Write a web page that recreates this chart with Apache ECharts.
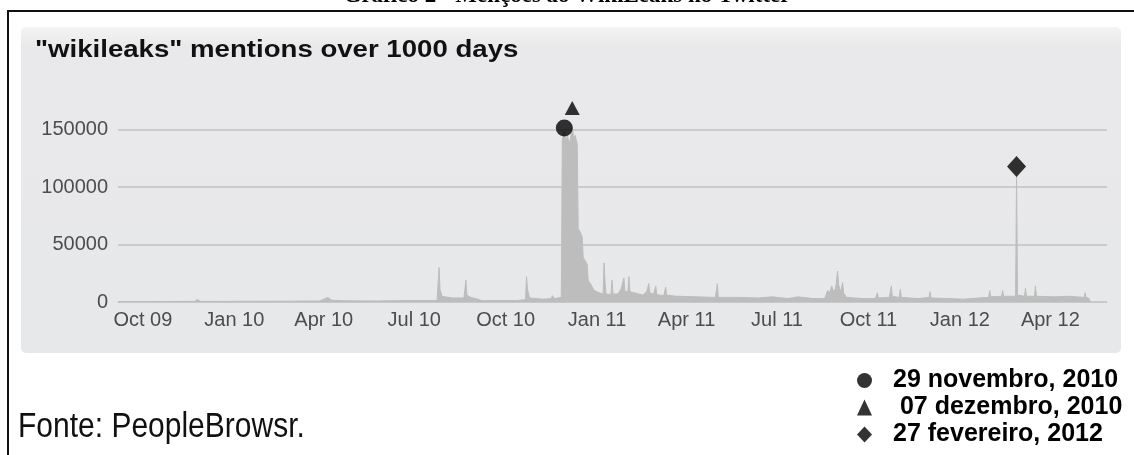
<!DOCTYPE html>
<html>
<head>
<meta charset="utf-8">
<title>wikileaks mentions over 1000 days</title>
<script src="https://cdn.jsdelivr.net/npm/echarts@6/dist/echarts.min.js"></script>
<style>
  html, body { margin: 0; padding: 0; background: #fff; }
  #chart { width: 1134px; height: 455px; }
</style>
</head>
<body>
<div id="chart"></div>
<script>
// menções diárias (datas e valores)
const mentionDates = [
  '2009-09-06', '2009-10-12', '2009-11-22', '2009-11-25', '2009-11-28',
  '2010-01-18', '2010-02-25', '2010-03-28', '2010-04-05', '2010-04-09',
  '2010-04-25', '2010-05-25', '2010-06-20', '2010-07-24', '2010-07-26',
  '2010-07-27', '2010-07-29', '2010-08-08', '2010-08-20', '2010-08-22',
  '2010-08-23', '2010-08-27', '2010-09-03', '2010-09-07', '2010-10-12',
  '2010-10-21', '2010-10-22', '2010-10-23', '2010-10-25', '2010-11-08',
  '2010-11-16', '2010-11-17', '2010-11-19', '2010-11-26', '2010-11-27',
  '2010-11-28', '2010-11-29', '2010-11-30', '2010-12-01', '2010-12-02',
  '2010-12-03', '2010-12-04', '2010-12-05', '2010-12-06', '2010-12-07',
  '2010-12-08', '2010-12-09', '2010-12-10', '2010-12-11', '2010-12-12',
  '2010-12-13', '2010-12-15', '2010-12-17', '2010-12-18', '2010-12-20',
  '2010-12-22', '2010-12-23', '2010-12-26', '2010-12-29', '2011-01-03',
  '2011-01-07', '2011-01-08', '2011-01-09', '2011-01-10', '2011-01-15',
  '2011-01-16', '2011-01-17', '2011-01-22', '2011-01-25', '2011-01-28',
  '2011-01-29', '2011-02-01', '2011-02-02', '2011-02-03', '2011-02-10',
  '2011-02-16', '2011-02-20', '2011-02-22', '2011-02-23', '2011-02-27',
  '2011-03-01', '2011-03-02', '2011-03-09', '2011-03-11', '2011-03-12',
  '2011-03-22', '2011-04-12', '2011-04-30', '2011-05-02', '2011-05-03',
  '2011-05-22', '2011-06-12', '2011-06-26', '2011-07-12', '2011-07-22',
  '2011-08-06', '2011-08-18', '2011-08-21', '2011-08-23', '2011-08-25',
  '2011-08-27', '2011-08-29', '2011-08-31', '2011-09-01', '2011-09-03',
  '2011-09-05', '2011-09-06', '2011-09-09', '2011-09-25', '2011-10-08',
  '2011-10-10', '2011-10-11', '2011-10-22', '2011-10-24', '2011-10-25',
  '2011-11-01', '2011-11-02', '2011-11-03', '2011-11-20', '2011-12-01',
  '2011-12-02', '2011-12-03', '2011-12-20', '2012-01-05', '2012-01-20',
  '2012-01-30', '2012-01-31', '2012-02-01', '2012-02-12', '2012-02-13',
  '2012-02-14', '2012-02-26', '2012-02-27', '2012-02-28', '2012-03-06',
  '2012-03-07', '2012-03-08', '2012-03-16', '2012-03-17', '2012-03-18',
  '2012-04-05', '2012-04-20', '2012-05-05', '2012-05-06', '2012-05-07',
  '2012-05-10', '2012-05-11'
];
const mentionValues = [
  300, 400, 500, 2200, 500,
  600, 700, 900, 4000, 1500,
  1000, 900, 1200, 1300, 30000,
  11000, 5000, 3500, 3500, 19000,
  6000, 4000, 2500, 1200, 1300,
  2000, 22000, 11000, 3500, 2500,
  3000, 5500, 3000, 4000, 140000,
  147000, 150000, 143000, 140000, 145000,
  142000, 138000, 141000, 146000, 152000,
  146000, 143000, 145000, 141000, 138000,
  64000, 61000, 57000, 39000, 36000,
  33000, 19000, 15000, 10000, 8000,
  7000, 34000, 18000, 7000, 6500,
  19000, 7000, 7000, 11000, 21000,
  9000, 9000, 22000, 9000, 7500,
  6000, 9000, 16000, 8000, 7000,
  14000, 6500, 5500, 13000, 6000,
  5000, 4500, 4000, 16000, 4000,
  4000, 3500, 4500, 3000, 4500,
  3000, 3000, 10000, 8000, 14000,
  9000, 12000, 27000, 15000, 9000,
  17000, 8000, 4000, 3000, 3000,
  8000, 3500, 4000, 14000, 5000,
  4000, 11000, 4000, 3000, 4000,
  9000, 3500, 3000, 2500, 3500,
  4000, 10000, 4500, 5000, 10000,
  5000, 5000, 110000, 6000, 5000,
  12000, 5000, 5000, 14000, 5000,
  4500, 5000, 4000, 8000, 4000,
  3000, 0
];

// datas destacadas no gráfico
const eventNames = ['29 novembro, 2010', ' 07 dezembro, 2010', '27 fevereiro, 2012'];
const eventDates = ['2010-11-29', '2010-12-07', '2012-02-27'];
const eventValues = [151500, 169000, 118000];
const eventSymbols = ['circle', 'triangle', 'diamond'];

// rótulos do eixo x
const tickDates = ['2009-10-01', '2010-01-01', '2010-04-01', '2010-07-01', '2010-10-01',
  '2011-01-01', '2011-04-01', '2011-07-01', '2011-10-01', '2012-01-01', '2012-04-01'];
const tickLabels = ['Oct 09', 'Jan 10', 'Apr 10', 'Jul 10', 'Oct 10',
  'Jan 11', 'Apr 11', 'Jul 11', 'Oct 11', 'Jan 12', 'Apr 12'];

function toTime(s) {
  let p = s.split('-');
  return new Date(+p[0], +p[1] - 1, +p[2]).getTime();
}

let tickTimes = tickDates.map(toTime);
let labelMap = {};
tickTimes.forEach((t, i) => { labelMap[t] = tickLabels[i]; });

let mentionData = mentionDates.map((d, i) => [toTime(d), mentionValues[i]]);
let eventSizes = [17, [15, 14], [19, 21]];

let eventSeries = eventNames.map((name, i) => ({
  name: name,
  type: 'scatter',
  symbol: eventSymbols[i],
  symbolSize: eventSizes[i],
  itemStyle: { color: '#000' },
  z: 5,
  data: [[toTime(eventDates[i]), eventValues[i]]]
}));

let chart = echarts.init(document.getElementById('chart'));
chart.setOption({
  animation: false,
  textStyle: { fontFamily: 'Liberation Sans, Arial, sans-serif' },
  graphic: [
    {
      type: 'text', x: 567, y: -4, z: 1,
      style: {
        text: 'Gráfico 2 - Menções ao WikiLeaks no Twitter',
        font: 'bold 23px "Liberation Serif", serif',
        fill: '#000', textAlign: 'center', textVerticalAlign: 'middle'
      }
    },
    {
      type: 'polyline', z: 1,
      shape: { points: [[8, 455], [8, 11], [1134, 11]] },
      style: { stroke: '#111', lineWidth: 2, fill: null }
    },
    {
      type: 'rect', z: -10,
      shape: { x: 21, y: 27, width: 1100, height: 326, r: 5 },
      style: {
        fill: new echarts.graphic.LinearGradient(0, 0, 0, 1, [
          { offset: 0, color: '#f3f3f3' },
          { offset: 0.06, color: '#e9e9eb' },
          { offset: 1, color: '#e7e8ea' }
        ])
      }
    },
    {
      type: 'text', x: 35, y: 51, scaleX: 1.2, z: 1,
      style: {
        text: '"wikileaks" mentions over 1000 days',
        font: 'bold 23px "Liberation Sans", Arial, sans-serif',
        fill: '#111', textVerticalAlign: 'middle'
      }
    },
    {
      type: 'text', x: 18, y: 427, scaleY: 1.15, z: 1,
      style: {
        text: 'Fonte: PeopleBrowsr.',
        font: '30px "Liberation Sans", Arial, sans-serif',
        fill: '#111', textVerticalAlign: 'middle'
      }
    }
  ],
  legend: {
    data: eventNames,
    orient: 'vertical',
    left: 857,
    top: 367,
    padding: 0,
    itemWidth: 15,
    itemHeight: 16,
    itemGap: 0,
    selectedMode: false,
    textStyle: {
      fontSize: 25, fontWeight: 'bold', color: '#000',
      lineHeight: 27, padding: [0, 0, 0, 16]
    }
  },
  grid: { left: 118, right: 27, top: 101, bottom: 153 },
  xAxis: {
    type: 'value',
    min: toTime('2009-09-06'),
    max: toTime('2012-05-28'),
    axisLine: { show: true, lineStyle: { color: '#c8c8c8', width: 1 } },
    axisTick: { show: false },
    splitLine: { show: false },
    axisLabel: {
      customValues: tickTimes,
      formatter: v => labelMap[v] || '',
      color: '#4d4d4d', fontSize: 20, margin: 8, hideOverlap: false
    }
  },
  yAxis: {
    type: 'value',
    min: 0, max: 175000, interval: 50000,
    axisLine: { show: false },
    axisTick: { show: false },
    splitLine: { show: true, showMaxLine: false, lineStyle: { color: '#cbcbcb', width: 2 } },
    axisLabel: {
      showMaxLabel: false, color: '#4d4d4d', fontSize: 20, margin: 10,
      formatter: v => String(v)
    }
  },
  series: [
    {
      name: 'mentions',
      type: 'line',
      symbol: 'none',
      lineStyle: { color: '#bdbdbd', width: 1 },
      areaStyle: { color: '#bdbdbd', opacity: 1 },
      z: 2,
      data: mentionData
    }
  ].concat(eventSeries)
});
</script>
</body>
</html>
